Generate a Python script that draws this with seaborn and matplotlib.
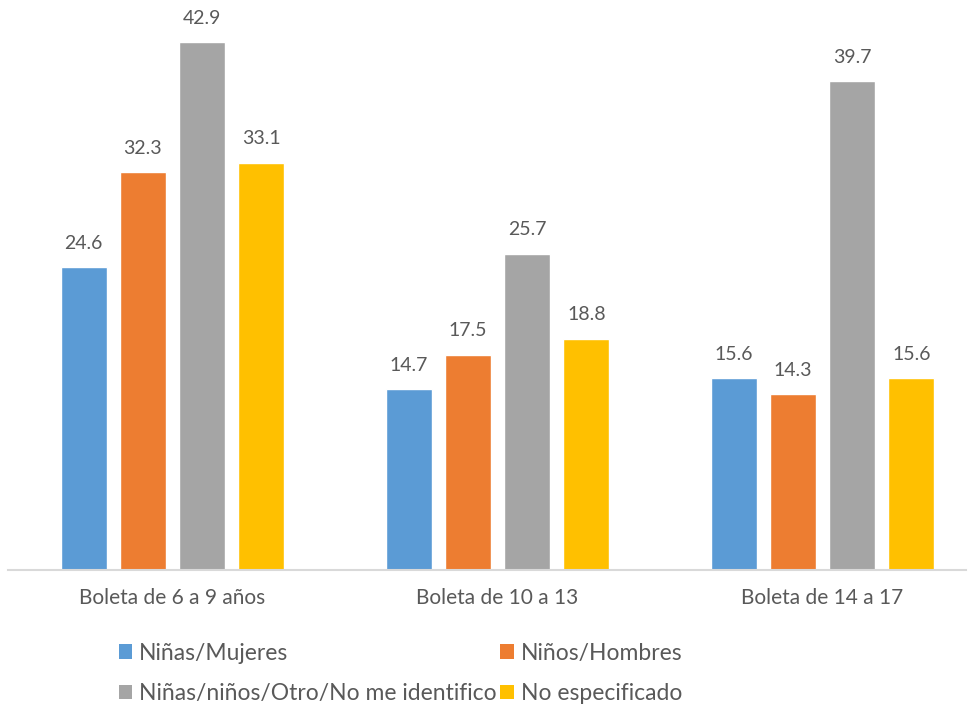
import matplotlib
matplotlib.use("Agg")
import matplotlib.pyplot as plt
import seaborn as sns
import pandas as pd
from matplotlib.patches import Patch

categories = ["Boleta de 6 a 9 años", "Boleta de 10 a 13", "Boleta de 14 a 17"]
series = ["Niñas/Mujeres", "Niños/Hombres", "Niñas/niños/Otro/No me identifico", "No especificado"]
ninas_mujeres = [24.6, 14.7, 15.6]
ninos_hombres = [32.3, 17.5, 14.3]
otro = [42.9, 25.7, 39.7]
no_especificado = [33.1, 18.8, 15.6]
colors = ["#5B9BD5", "#ED7D31", "#A5A5A5", "#FFC000"]

rows = []
for s, vals in zip(series, [ninas_mujeres, ninos_hombres, otro, no_especificado]):
    for c, v in zip(categories, vals):
        rows.append({"cat": c, "serie": s, "val": v})
df = pd.DataFrame(rows)

sns.set_theme(style="white")
plt.rcParams["font.family"] = ["Lato", "DejaVu Sans"]
text_color = "#595959"

fig = plt.figure(figsize=(9.72, 7.07), dpi=100)
W, H = 972, 707
ax = fig.add_axes([8 / W, 1 - 570 / H, (966 - 8) / W, (570 - 16) / H])

sns.barplot(data=df, x="cat", y="val", hue="serie", order=categories, hue_order=series,
            palette=colors, width=0.73, gap=0.225, ax=ax, legend=False, saturation=1)

for cont in ax.containers:
    for bar in cont:
        h = bar.get_height()
        ax.annotate(f"{h:.1f}", (bar.get_x() + bar.get_width() / 2, h),
                    xytext=(0, 11), textcoords="offset points", ha="center", va="bottom",
                    fontsize=14, color=text_color)

ax.set_xlim((8 - 172.5) / 325, (966 - 172.5) / 325)
ax.set_ylim(0, 45)
ax.set_xlabel("")
ax.set_ylabel("")
ax.set_yticks([])
ax.tick_params(axis="x", length=0, pad=13, labelsize=15, labelcolor=text_color)
for side in ["top", "right", "left"]:
    ax.spines[side].set_visible(False)
ax.spines["bottom"].set_color("#D9D9D9")
ax.spines["bottom"].set_linewidth(1.5)

order = [0, 2, 1, 3]
handles = [Patch(facecolor=colors[i], edgecolor="none") for i in order]
labels = [series[i] for i in order]
leg = fig.legend(handles, labels, ncol=2, loc="upper left",
                 bbox_to_anchor=(98 / W, 1 - 622 / H), frameon=False,
                 fontsize=16.5, handlelength=0.6, handleheight=0.6, handletextpad=0.3,
                 columnspacing=0.15, labelspacing=0.85)
for t in leg.get_texts():
    t.set_color(text_color)

fig.savefig("out.png", dpi=100)
